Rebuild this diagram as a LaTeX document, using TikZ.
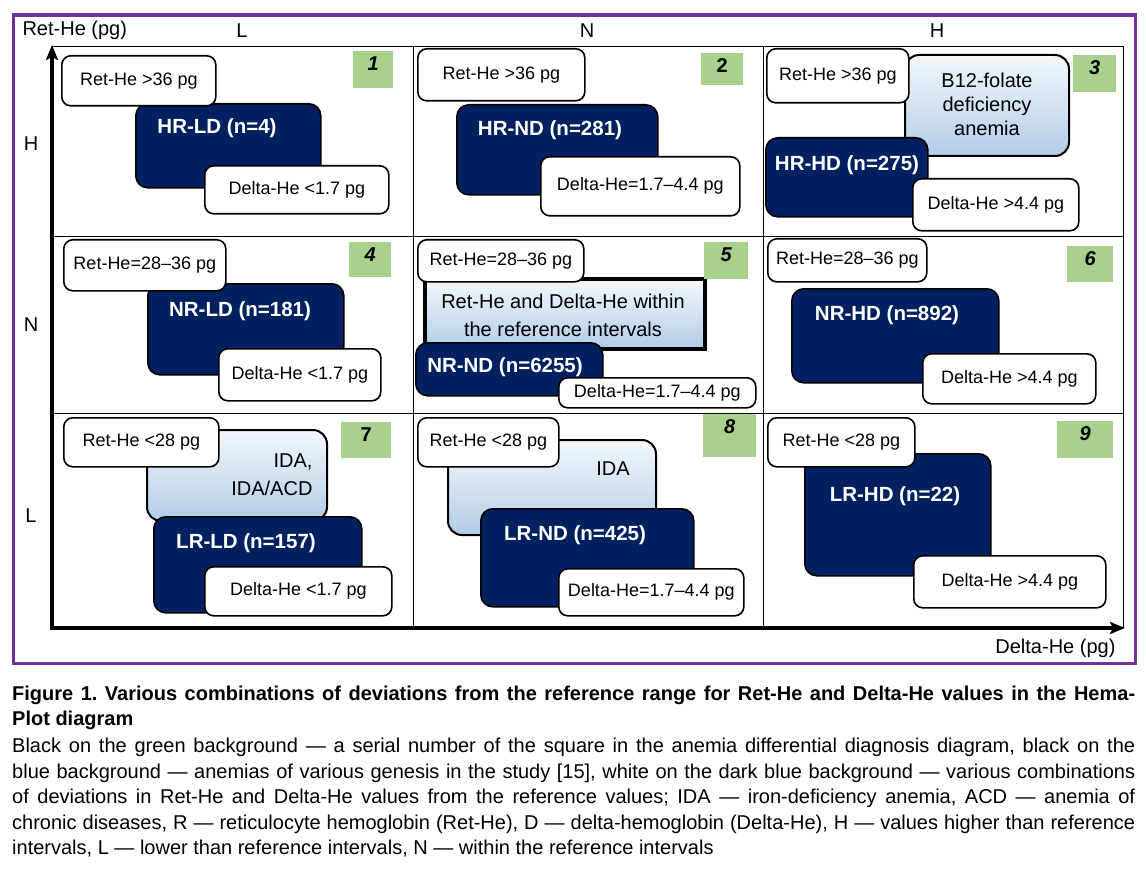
\documentclass[tikz,border=0pt]{standalone}
\usepackage{fontspec}
\setmainfont{Liberation Sans}
\usetikzlibrary{arrows.meta,positioning}

\definecolor{navy}{RGB}{0,32,96}
\definecolor{numgreen}{RGB}{169,209,142}
\definecolor{paleblue}{RGB}{178,204,232}
\definecolor{framepurple}{RGB}{112,48,160}

\newcommand{\fullline}[1]{\makebox[1123pt][s]{#1}}
\frenchspacing

\begin{document}
\begin{tikzpicture}[x=1pt, y=-1pt,
    valbox/.style={draw, line width=1.6pt, rounded corners=9pt, fill=white, anchor=north west, inner sep=0pt, font=\fontsize{18}{22}\selectfont},
    grpbox/.style={draw, line width=1.6pt, rounded corners=12pt, fill=navy, anchor=north west, inner sep=0pt},
    grptext/.style={text=white, font=\bfseries\fontsize{20.5}{24}\selectfont},
    dxbox/.style={draw, line width=2pt, rounded corners=14pt, top color=paleblue!15, bottom color=paleblue, anchor=north west, inner sep=0pt},
    dxtext/.style={align=center, font=\fontsize{20}{24}\selectfont},
    numbox/.style={fill=numgreen, anchor=north west, inner sep=0pt},
    numtext/.style={font=\bfseries\fontsize{20}{24}\selectfont},
    axislabel/.style={font=\fontsize{20}{24}\selectfont},
    gridline/.style={line width=1pt},
    axisline/.style={line width=3.2pt, {Stealth[length=15pt, width=12pt, inset=3pt]}-{Stealth[length=15pt, width=12pt, inset=3pt]}},
    caption/.style={align=left, inner sep=0pt, anchor=north west, font=\fontsize{20}{25.5}\selectfont},
]
\useasboundingbox (0,0) rectangle (1146,869);

% outer frame
\draw[framepurple, line width=3.5pt] (13.5,15) rectangle (1135.5,663.5);

% grid
\draw[gridline] (52,47) -- (1123,47) -- (1123,628);
\foreach \x in {413,763} \draw[gridline] (\x,47) -- (\x,628);
\foreach \y in {237,413} \draw[gridline] (52,\y) -- (1123,\y);

% axes
\coordinate (ytip) at (52,45);
\coordinate (origin) at (52,628);
\coordinate (xtip) at (1125,628);
\draw[axisline] (ytip) -- (origin) -- (xtip);

% axis labels
\node[axislabel, anchor=west] (ylab) at (19,30) {Ret-He (pg)};
\node[axislabel, anchor=east] (xlab) at (1119,648) {Delta-He (pg)};
\node[axislabel] (colL) at (242,31) {L};
\node[axislabel] (colN) at (587,31) {N};
\node[axislabel] (colH) at (937,31) {H};
\node[axislabel] (rowH) at (31,144) {H};
\node[axislabel] (rowN) at (31,325) {N};
\node[axislabel] (rowL) at (31,516) {L};

% square 1
\node[grpbox, minimum width=185, minimum height=84] (d1) at (135,103) {};
\node[grptext] (t1) at (217,128) {HR-LD (n=4)};
\node[valbox, minimum width=154, minimum height=50] (r1) at (61,55) {Ret-He >36 pg};
\node[valbox, minimum width=184, minimum height=48] (e1) at (204,165) {Delta-He <1.7 pg};

% square 2
\node[grpbox, minimum width=201, minimum height=90] (d2) at (456,104) {};
\node[grptext] (t2) at (550,130) {HR-ND (n=281)};
\node[valbox, minimum width=167, minimum height=52] (r2) at (417,48) {Ret-He >36 pg};
\node[valbox, minimum width=199, minimum height=59] (e2) at (540,156) {Delta-He=1.7–4.4 pg};

% square 3
\node[dxbox, minimum width=164, minimum height=101] (l3) at (904,54) {};
\node[dxtext] (x3) at (987,104) {B12-folate\\deficiency\\anemia};
\node[grpbox, minimum width=162, minimum height=79] (d3) at (765,137) {};
\node[grptext] (t3) at (847,165) {HR-HD (n=275)};
\node[valbox, minimum width=142, minimum height=54] (r3) at (766,48) {Ret-He >36 pg};
\node[valbox, minimum width=166, minimum height=52] (e3) at (912,178) {Delta-He >4.4 pg};

% square 4
\node[grpbox, minimum width=196, minimum height=91] (d4) at (147,283) {};
\node[grptext] (t4) at (240,311) {NR-LD (n=181)};
\node[valbox, minimum width=162, minimum height=51] (r4) at (63,239) {Ret-He=28–36 pg};
\node[valbox, minimum width=162, minimum height=52] (e4) at (218,348) {Delta-He <1.7 pg};

% square 5
\node[dxbox, sharp corners, line width=4pt, minimum width=280, minimum height=70] (l5) at (423,277) {};
\node[dxtext, font=\fontsize{20}{28}\selectfont] (x5) at (563,315) {Ret-He and Delta-He within\\the reference intervals};
\node[grpbox, minimum width=187, minimum height=53] (d5) at (415,342) {};
\node[grptext] (t5) at (505,367) {NR-ND (n=6255)};
\node[valbox, minimum width=166, minimum height=42] (r5) at (417,239) {Ret-He=28–36 pg};
\node[valbox, minimum width=197, minimum height=30] (e5) at (558,377) {Delta-He=1.7–4.4 pg};

% square 6
\node[grpbox, minimum width=207, minimum height=94] (d6) at (791,288) {};
\node[grptext] (t6) at (887,315) {NR-HD (n=892)};
\node[valbox, minimum width=159, minimum height=43] (r6) at (767,238) {Ret-He=28–36 pg};
\node[valbox, minimum width=173, minimum height=50] (e6) at (922,353) {Delta-He >4.4 pg};

% square 7
\node[dxbox, minimum width=180, minimum height=91] (l7) at (146,429) {};
\node[dxtext, align=right, anchor=east, font=\fontsize{20}{28}\selectfont] (x7) at (316,475) {IDA,\\IDA/ACD};
\node[grpbox, minimum width=208, minimum height=96] (d7) at (153,516) {};
\node[grptext] (t7) at (246,543) {LR-LD (n=157)};
\node[valbox, minimum width=155, minimum height=49] (r7) at (63,417) {Ret-He <28 pg};
\node[valbox, minimum width=187, minimum height=49] (e7) at (204,566) {Delta-He <1.7 pg};

% square 8
\node[dxbox, minimum width=208, minimum height=95] (l8) at (447,439) {};
\node[dxtext] (x8) at (613,469) {IDA};
\node[grpbox, minimum width=213, minimum height=98] (d8) at (480,508) {};
\node[grptext] (t8) at (575,535) {LR-ND (n=425)};
\node[valbox, minimum width=141, minimum height=49] (r8) at (417,417) {Ret-He <28 pg};
\node[valbox, minimum width=185, minimum height=47] (e8) at (558,568) {Delta-He=1.7–4.4 pg};

% square 9
\node[grpbox, minimum width=186, minimum height=122] (d9) at (804,453) {};
\node[grptext] (t9) at (895,496) {LR-HD (n=22)};
\node[valbox, minimum width=147, minimum height=49] (r9) at (767,417) {Ret-He <28 pg};
\node[valbox, minimum width=192, minimum height=52] (e9) at (913,555) {Delta-He >4.4 pg};

% serial numbers
\foreach \n/\x/\y/\w/\h/\f in {1/353/51/40/37/\itshape, 2/701/53/42/32/\upshape,
    3/1073/55/43/37/\itshape, 4/349/242/42/35/\itshape, 5/704/242/44/37/\itshape,
    6/1067/246/46/36/\itshape, 7/341/422/50/36/\upshape, 8/703/414/53/43/\itshape,
    9/1057/421/56/37/\itshape} {
  \node[numbox, minimum width=\w, minimum height=\h] (g\n) at (\x,\y) {};
  \node[numtext] (n\n) at ([yshift=-13pt]g\n.north) {\f\n};
}

% caption
\node[caption] (cap) at (12,685.5) {%
  \textbf{\fullline{Figure 1. Various combinations of deviations from the reference range for Ret-He and Delta-He values in the Hema-}}\\
  \textbf{Plot diagram}\\[1.5pt]
  \fullline{Black on the green background — a serial number of the square in the anemia differential diagnosis diagram, black on the}\\
  \fullline{blue background — anemias of various genesis in the study [15], white on the dark blue background — various combinations}\\
  \fullline{of deviations in Ret-He and Delta-He values from the reference values; IDA — iron-deficiency anemia, ACD — anemia of}\\
  \fullline{chronic diseases, R — reticulocyte hemoglobin (Ret-He), D — delta-hemoglobin (Delta-He), H — values higher than reference}\\
  intervals, L — lower than reference intervals, N — within the reference intervals};

\end{tikzpicture}
\end{document}
